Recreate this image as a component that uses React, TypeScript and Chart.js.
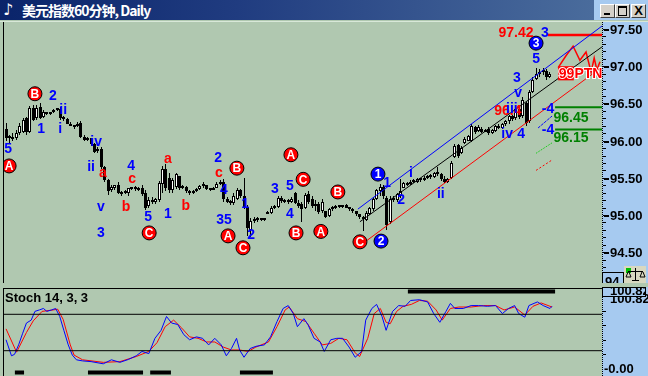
import React, { useEffect, useRef } from 'react';
import { Chart, registerables } from 'chart.js';
Chart.register(...registerables);

const TITLE = '美元指数60分钟, Daily';
const STOCH_TITLE = 'Stoch 14, 3, 3';
const PRICE_TICKS = [97.5, 97.0, 96.5, 96.0, 95.5, 95.0, 94.5];
const PRICE_MIN = 94.087;
const PRICE_MAX = 97.594;
const X_MIN = -0.6;
const X_MAX = 175.3;
const STOCH_MIN = -9.75;
const STOCH_MAX = 112.5;
const STOCH_LEVELS = [75, 25];
const STOCH_TOP_LABEL = '100.82';
const STOCH_BOTTOM_LABEL = '-0.00';

const OPEN = [96.16,96.03,96.05,96.03,96.10,96.12,96.30,96.12,96.44,96.30,96.45,96.32,96.37,96.36,96.38,96.41,96.42,96.30,96.29,96.23,
96.20,96.19,96.24,96.05,96.01,96.03,95.95,95.86,95.89,95.64,95.47,95.33,95.36,95.41,95.30,95.29,95.29,95.36,95.35,95.37,
95.36,95.30,95.12,95.20,95.18,95.20,95.42,95.62,95.50,95.34,95.38,95.52,95.37,95.38,95.32,95.29,95.32,95.35,95.39,95.40,
95.35,95.34,95.37,95.42,95.44,95.21,95.18,95.16,95.22,95.33,95.25,95.11,94.80,94.92,94.95,94.93,94.95,95.02,95.03,95.10,
95.11,95.23,95.19,95.18,95.17,95.29,95.16,95.15,95.10,95.28,95.22,95.12,95.15,95.05,95.05,94.99,95.08,95.10,95.12,95.11,
95.13,95.10,95.08,95.05,95.01,94.97,94.94,95.02,95.08,95.22,95.32,95.38,95.23,94.90,95.22,95.20,95.26,95.37,95.42,95.42,
95.45,95.44,95.48,95.47,95.50,95.52,95.51,95.56,95.55,95.48,95.45,95.50,95.78,95.94,95.84,95.97,96.00,96.00,96.18,96.13,
96.16,96.12,96.16,96.10,96.13,96.19,96.17,96.22,96.26,96.33,96.30,96.42,96.33,96.50,96.26,96.66,96.83,96.90,96.92,96.93,96.85];
const HIGH = [96.24,96.08,96.10,96.14,96.24,96.31,96.32,96.46,96.48,96.48,96.50,96.41,96.39,96.39,96.42,96.44,96.45,96.33,96.30,96.25,
96.21,96.25,96.26,96.07,96.05,96.04,95.97,95.92,95.92,95.66,95.49,95.41,95.41,95.45,95.32,95.34,95.37,95.38,95.39,95.38,
95.40,95.33,95.24,95.24,95.23,95.46,95.66,95.68,95.56,95.50,95.57,95.53,95.41,95.39,95.34,95.33,95.36,95.41,95.44,95.41,
95.37,95.38,95.44,95.47,95.48,95.24,95.20,95.29,95.36,95.35,95.50,95.13,94.96,94.98,94.97,94.96,94.96,95.05,95.12,95.14,
95.25,95.25,95.21,95.21,95.24,95.31,95.20,95.18,95.30,95.32,95.25,95.20,95.18,95.21,95.06,95.10,95.12,95.14,95.14,95.14,
95.15,95.11,95.10,95.06,95.02,94.99,95.05,95.11,95.24,95.35,95.42,95.40,95.26,95.25,95.25,95.30,95.49,95.45,95.45,95.47,
95.48,95.50,95.50,95.52,95.54,95.55,95.58,95.64,95.57,95.52,95.50,95.72,95.96,95.96,95.93,96.05,96.08,96.22,96.20,96.21,
96.18,96.16,96.18,96.16,96.21,96.22,96.24,96.28,96.35,96.34,96.45,96.46,96.58,96.52,96.68,96.85,96.98,96.96,96.98,96.96,96.92];
const LOW = [95.99,95.97,96.00,96.01,96.08,96.10,96.08,96.10,96.26,96.28,96.29,96.30,96.35,96.35,96.37,96.40,96.28,96.27,96.22,96.19,
96.16,96.18,96.03,95.99,95.99,95.93,95.83,95.83,95.62,95.45,95.27,95.31,95.33,95.28,95.26,95.28,95.25,95.33,95.32,95.32,
95.26,95.07,95.10,95.15,95.15,95.18,95.30,95.32,95.30,95.30,95.35,95.34,95.35,95.30,95.27,95.28,95.31,95.34,95.37,95.33,
95.32,95.33,95.36,95.40,95.18,95.16,95.14,95.13,95.20,95.23,95.08,94.72,94.70,94.89,94.90,94.92,94.92,95.01,95.02,95.08,
95.10,95.16,95.16,95.15,95.16,95.15,95.10,94.91,95.08,95.15,95.09,95.06,95.02,95.03,94.96,94.98,95.06,95.08,95.09,95.10,
95.09,95.06,95.03,94.99,94.95,94.78,94.92,95.00,95.06,95.20,95.25,95.22,94.80,94.88,95.18,95.18,95.23,95.36,95.39,95.41,
95.43,95.43,95.45,95.46,95.48,95.49,95.50,95.53,95.46,95.43,95.43,95.48,95.76,95.76,95.82,95.95,95.99,95.98,96.09,96.11,
96.10,96.11,96.08,96.09,96.12,96.15,96.15,96.19,96.23,96.27,96.28,96.29,96.30,96.20,96.24,96.64,96.81,96.86,96.88,96.82,96.84];
const CLOSE = [96.03,96.05,96.02,96.10,96.20,96.28,96.11,96.44,96.28,96.44,96.31,96.38,96.36,96.38,96.41,96.42,96.30,96.29,96.23,96.20,
96.18,96.23,96.05,96.01,96.03,95.95,95.85,95.89,95.64,95.47,95.32,95.38,95.40,95.30,95.28,95.32,95.36,95.35,95.37,95.34,
95.28,95.10,95.20,95.18,95.21,95.43,95.62,95.36,95.34,95.47,95.55,95.37,95.38,95.32,95.29,95.32,95.35,95.39,95.42,95.35,
95.34,95.37,95.42,95.45,95.21,95.18,95.16,95.26,95.33,95.26,95.10,94.83,94.92,94.95,94.93,94.95,94.94,95.04,95.10,95.12,
95.23,95.19,95.18,95.17,95.21,95.16,95.12,95.08,95.27,95.17,95.12,95.15,95.04,95.18,94.98,95.08,95.10,95.12,95.11,95.13,
95.10,95.08,95.05,95.01,94.97,94.95,95.03,95.09,95.22,95.33,95.38,95.25,94.87,95.22,95.20,95.28,95.32,95.43,95.41,95.45,
95.44,95.48,95.47,95.50,95.52,95.51,95.56,95.55,95.48,95.45,95.49,95.70,95.93,95.80,95.90,96.02,96.06,96.20,96.11,96.18,
96.12,96.14,96.10,96.14,96.20,96.17,96.22,96.26,96.33,96.29,96.43,96.32,96.54,96.24,96.65,96.82,96.90,96.92,96.95,96.85,96.90];

// Stochastic %K (blue) and %D (red): bar index / value
const K_X = [0,1.6,2.5,3.7,4.9,6,7.4,8.5,9.8,11,12,13.4,14.6,15.8,17,18.3,19.5,20.7,22.5,25,28.6,31,33.5,36,38.3,40,42,43.8,45.6,47.2,48.7,50.5,52.3,54,56,57.8,59.6,61.4,63.3,64.8,66.3,67.8,68.7,70,71.8,73.5,76,77.8,79.7,81.5,83,84.5,85.7,87.6,88.8,90.6,92.4,93.6,95.5,97.3,99,100.9,102.7,104.6,105.8,107.6,109,110.6,111.8,113.7,115.5,117.4,119,121.6,124,125.8,127.6,129.4,130.7,132,134.5,136.8,139,141.6,144,146,147.8,149.6,150.8,152.6,153.8,156.3,158,160,160.6];
const K_Y = [40,18,20,33,49,63,67,79,81,83,79,81,83,72,53,33,19,12.5,11,10,7,12.5,9,13,18,24,21,42,53,72,63,61,47,40,44,42,33,42,33,18,28,42,26,16,28,31,33,44,65,83,87,76,58,69,61,42,37,24,40,42,42,30,16,24,67,83,88.6,72,53,79,87,86,94,95,92,76,64,79,90,83,83,87,87,86,87,76,83,87,76,71,87,92,87,83,86];
const D_X = [0,3.1,6,8,10.6,13.9,15.2,16.8,18.9,20,22.5,28.6,33.5,38.3,42,44.4,46.8,49.3,51.7,54,56.5,59,61.4,63.9,66.3,68.7,71.2,73.5,77.2,79.7,82.1,83.3,85.7,88.2,90.6,93,95.5,97.9,100.3,102.7,104,106.4,108.3,110.1,111.8,113,114.9,116.8,119.2,121.6,124,126.5,128.3,130.7,133.2,136.8,140.4,144,146.5,149.6,152.6,155,157.4,160.6];
const D_Y = [55,23,50,66,79,81,82,68,33,19,12.5,9,10,17,24,36,58,67,56,44,42,37,37,30,26,26,24,30,37,58,81,85,69,65,49,33,35,42,40,22,17,42,76,83,64,62,79,86,88.6,94,93,81,67,83,85,85,87,87,81,85,74,86,90.6,85];
const OB_SPANS = [[118.2, 161.5]];
const OS_SPANS = [[2.6, 5.3], [24.1, 40.3], [42.4, 48.5], [68.8, 78.5]];
const OB_MARK = 106.3;
const OS_MARK = -5;

// drawn studies on the price chart (bar index, price)
const CH_UPPER = [[103.5, 95.08], [175.3, 97.54]];
const CH_MID = [[104.1, 94.91], [175.3, 97.26]];
const CH_LOWER = [[105.9, 94.65], [175.3, 96.99]];
const TARGET = 97.42;
const TARGET_FROM = 159.4;
const GREEN_LEVELS = [96.45, 96.15];
const GREEN_FROM = 161.5;
const SEG_BLUE = [[156.5, 96.17], [160.6, 96.33]];
const SEG_GREEN = [[155.9, 95.83], [160.6, 95.97]];
const SEG_RED = [[155.9, 95.60], [160.6, 95.74]];
const ZIGZAG = [[162.4, 96.98], [164.7, 97.14], [166.8, 97.27], [168.8, 97.08], [170.6, 97.19], [172.1, 96.92], [173.0, 97.11], [173.8, 96.95], [174.7, 97.06]];

const WAVE_LABELS = [
  [0.6, 95.90, '5', 'b'], [0.9, 95.66, 'A', 'rc'], [8.5, 96.63, 'B', 'rc'], [13.8, 96.61, '2', 'b'],
  [16.8, 96.42, 'ii', 'b'], [10.3, 96.17, '1', 'b'], [15.9, 96.17, 'i', 'b'], [26.5, 95.99, 'iv', 'b'],
  [25.0, 95.66, 'ii', 'b'], [28.5, 95.58, 'a', 'r'], [36.8, 95.67, '4', 'b'], [37.1, 95.50, 'c', 'r'],
  [27.9, 95.12, 'v', 'b'], [35.3, 95.12, 'b', 'r'], [27.9, 94.77, '3', 'b'], [41.8, 94.99, '5', 'b'],
  [42.1, 94.76, 'C', 'rc'], [47.6, 95.03, '1', 'b'], [47.6, 95.77, 'a', 'r'], [52.9, 95.13, 'b', 'r'],
  [62.4, 95.78, '2', 'b'], [62.6, 95.58, 'c', 'r'], [64.1, 95.35, '4', 'b'], [64.1, 94.95, '35', 'b'],
  [65.3, 94.72, 'A', 'rc'], [67.9, 95.63, 'B', 'rc'], [70.3, 95.16, '1', 'b'], [72.1, 94.74, '2', 'b'],
  [69.7, 94.56, 'C', 'rc'], [83.8, 95.81, 'A', 'rc'], [79.1, 95.36, '3', 'b'], [83.5, 95.40, '5', 'b'],
  [87.4, 95.48, 'C', 'rc'], [83.5, 95.03, '4', 'b'], [85.3, 94.76, 'B', 'rc'], [92.6, 94.78, 'A', 'rc'],
  [97.6, 95.31, 'B', 'rc'], [109.4, 95.55, '1', 'bc'], [112.1, 95.44, '1', 'b'], [119.1, 95.58, 'i', 'b'],
  [116.2, 95.22, '2', 'b'], [104.1, 94.64, 'C', 'rc'], [110.3, 94.65, '2', 'bc'], [127.9, 95.30, 'ii', 'b'],
  [147.6, 96.41, '96.4', 'r'], [148.8, 96.44, 'iii', 'b'],
  [147.4, 96.10, 'iv', 'b'], [151.5, 96.10, '4', 'b'], [150.6, 96.65, 'v', 'b'], [150.3, 96.85, '3', 'b'],
  [155.9, 97.11, '5', 'b'], [155.9, 97.31, '3', 'bc'], [150.0, 97.46, '97.42', 'r'], [158.5, 97.46, '3', 'b'],
  [159.4, 96.44, '-4', 'b'], [159.4, 96.16, '-4', 'b'], [166.2, 96.32, '96.45', 'g'], [166.2, 96.05, '96.15', 'g'],
];
const TAG_TEXT = '99PTN';
const TAG_POS = [162.6, 96.91];
const TAG_BOX = [[162.4, 97.0], [167.0, 96.81]];

const FONT = '"Liberation Sans", Arial, sans-serif';
const AXIS_BG = '#a6caf0';
const COLORS = { b: '#0000ff', r: '#ff0000', g: '#008000' };

const pts = (arr) => arr.map(([x, y]) => ({ x, y }));

function lineDs(data, color, width = 1, dash = []) {
  return {
    type: 'line', data, borderColor: color, borderWidth: width, borderDash: dash,
    pointRadius: 0, tension: 0, fill: false, spanGaps: false, order: 0, borderCapStyle: 'butt',
  };
}

// snap candle elements to whole pixels so they render crisp like the original
const snapBars = {
  id: 'snapBars',
  beforeDatasetsDraw(chart) {
    chart.data.datasets.forEach((ds, di) => {
      const meta = chart.getDatasetMeta(di);
      if (meta.type !== 'bar') return;
      meta.data.forEach((el) => {
        el.x = Math.floor(el.x) + 0.5;
        el.y = Math.round(el.y);
        el.base = Math.round(el.base);
      });
    });
  },
};

const priceOverlay = {
  id: 'priceOverlay',
  afterDatasetsDraw(chart) {
    const { ctx, chartArea: a, scales } = chart;
    const x = scales.x, y = scales.y;
    ctx.save();
    ctx.beginPath();
    ctx.rect(a.left, a.top, a.right - a.left, a.bottom - a.top);
    ctx.clip();
    const bx1 = x.getPixelForValue(TAG_BOX[0][0]), by1 = y.getPixelForValue(TAG_BOX[0][1]);
    const bx2 = x.getPixelForValue(TAG_BOX[1][0]), by2 = y.getPixelForValue(TAG_BOX[1][1]);
    ctx.fillStyle = '#ff0000';
    ctx.fillRect(bx1, by1, bx2 - bx1, by2 - by1);
    ctx.font = 'bold 14px ' + FONT;
    ctx.textAlign = 'left';
    ctx.textBaseline = 'middle';
    ctx.lineWidth = 2;
    ctx.strokeStyle = '#ffffff';
    const tx = x.getPixelForValue(TAG_POS[0]), ty = y.getPixelForValue(TAG_POS[1]);
    ctx.strokeText(TAG_TEXT, tx, ty + 1);
    ctx.fillStyle = '#ff0000';
    ctx.fillText(TAG_TEXT, tx, ty + 1);

    ctx.textAlign = 'center';
    for (const [i, p, t, k] of WAVE_LABELS) {
      const px = x.getPixelForValue(i), py = y.getPixelForValue(p);
      if (k === 'rc' || k === 'bc') {
        ctx.beginPath();
        ctx.arc(px, py, 7, 0, Math.PI * 2);
        ctx.fillStyle = k === 'rc' ? '#ff0000' : '#0000ff';
        ctx.fill();
        ctx.lineWidth = 1;
        ctx.strokeStyle = '#000000';
        ctx.stroke();
        ctx.fillStyle = '#ffffff';
        ctx.font = 'bold 12px ' + FONT;
        ctx.fillText(t, px, py + 1);
      } else {
        ctx.fillStyle = COLORS[k];
        ctx.font = 'bold 14px ' + FONT;
        ctx.fillText(t, px, py + 1);
      }
    }
    ctx.restore();
  },
  afterDraw(chart) {
    const { ctx, chartArea: a, scales } = chart;
    const y = scales.y;
    const R = a.right;
    ctx.save();
    ctx.fillStyle = AXIS_BG;
    ctx.fillRect(R, 0, chart.width - R, chart.height);
    ctx.fillStyle = '#000000';
    for (let yy = 0; yy < chart.height; yy += 2) ctx.fillRect(R, yy, 1, 1);
    for (let k = Math.ceil(y.min * 10); k <= Math.floor(y.max * 10); k++) {
      const py = Math.round(y.getPixelForValue(k / 10));
      ctx.fillRect(R + 1, py, 3, 1);
    }
    ctx.font = 'bold 13px ' + FONT;
    ctx.textBaseline = 'middle';
    ctx.textAlign = 'left';
    for (const v of PRICE_TICKS) {
      const py = Math.round(y.getPixelForValue(v));
      ctx.fillRect(R + 2, py, 5, 2);
      ctx.fillText(v.toFixed(2), R + 8, py + 1);
    }
    const H = chart.height;
    ctx.fillStyle = AXIS_BG;
    ctx.fillRect(R, H - 10, 22, 10);
    ctx.strokeStyle = '#000';
    ctx.lineWidth = 1;
    ctx.strokeRect(R + 0.5, H - 10.5, 21, 12);
    ctx.fillStyle = '#000';
    ctx.fillText('94', R + 3, H - 1);
    ctx.fillStyle = '#d8d8c0';
    ctx.fillRect(R + 22, H - 17, 22, 17);
    ctx.fillStyle = '#00c000';
    ctx.fillRect(R + 24, H - 15, 5, 5);
    ctx.strokeStyle = '#000';
    ctx.beginPath();
    ctx.moveTo(R + 33.5, H - 15); ctx.lineTo(R + 33.5, H - 2);
    ctx.moveTo(R + 26, H - 11.5); ctx.lineTo(R + 41, H - 11.5);
    ctx.moveTo(R + 26, H - 11); ctx.lineTo(R + 24, H - 6); ctx.lineTo(R + 29, H - 6); ctx.lineTo(R + 27, H - 11);
    ctx.moveTo(R + 40, H - 11); ctx.lineTo(R + 38, H - 6); ctx.lineTo(R + 43, H - 6); ctx.lineTo(R + 41, H - 11);
    ctx.moveTo(R + 30, H - 2.5); ctx.lineTo(R + 37, H - 2.5);
    ctx.stroke();
    ctx.restore();
  },
};

const stochOverlay = {
  id: 'stochOverlay',
  afterDraw(chart) {
    const { ctx, chartArea: a, scales } = chart;
    const y = scales.y;
    const R = a.right;
    ctx.save();
    ctx.fillStyle = '#000';
    ctx.fillRect(0, 1, R, 1);
    ctx.font = 'bold 13px ' + FONT;
    ctx.textBaseline = 'alphabetic';
    ctx.textAlign = 'left';
    ctx.fillText(STOCH_TITLE, 1, 15);
    ctx.fillStyle = AXIS_BG;
    ctx.fillRect(R, 0, chart.width - R, chart.height);
    ctx.fillStyle = '#000';
    for (let yy = 0; yy < chart.height; yy += 2) ctx.fillRect(R, yy, 1, 1);
    for (let v = 20; v <= 80; v += 20) {
      const py = Math.round(y.getPixelForValue(v));
      ctx.fillRect(R + 1, py, 3, 1);
    }
    ctx.textBaseline = 'middle';
    const y0 = Math.round(y.getPixelForValue(0));
    ctx.fillText(STOCH_BOTTOM_LABEL, R + 2, y0);
    const yt = Math.round(y.getPixelForValue(100.82));
    ctx.fillText(STOCH_TOP_LABEL, R + 8, yt + 3);
    ctx.fillStyle = AXIS_BG;
    ctx.fillRect(R, 0, 44, 10);
    ctx.strokeStyle = '#000';
    ctx.lineWidth = 1;
    ctx.strokeRect(R + 0.5, 0.5, 43, 9);
    ctx.save();
    ctx.beginPath();
    ctx.rect(R + 1, 1, 42, 8);
    ctx.clip();
    ctx.fillStyle = '#000';
    ctx.fillText(STOCH_TOP_LABEL, R + 8, 4);
    ctx.restore();
    ctx.restore();
  },
};

function spansData(spans, level) {
  const out = [];
  spans.forEach(([a, b], k) => {
    if (k > 0) out.push({ x: (a + spans[k - 1][1]) / 2, y: null });
    out.push({ x: a, y: level }, { x: b, y: level });
  });
  return out;
}

const Btn = ({ left, children }) => (
  <div style={{
    position: 'absolute', left, top: 4, width: 13, height: 12, background: '#d4d0c8',
    borderTop: '1px solid #ffffff', borderLeft: '1px solid #ffffff',
    borderRight: '1px solid #404040', borderBottom: '1px solid #404040', overflow: 'hidden',
  }}>{children}</div>
);

export default function App() {
  const mainRef = useRef(null);
  const stochRef = useRef(null);

  useEffect(() => {
    document.body.style.margin = '0';
    const body = CLOSE.map((c, i) => ({ x: i, y: [Math.min(OPEN[i], c), Math.max(OPEN[i], c)] }));
    const wick = CLOSE.map((c, i) => ({ x: i, y: [LOW[i], HIGH[i]] }));
    const bodyColors = CLOSE.map((c, i) => (c >= OPEN[i] ? '#ffffff' : '#000000'));

    const main = new Chart(mainRef.current, {
      type: 'bar',
      data: {
        datasets: [
          lineDs(pts(CH_UPPER), '#0000ff'),
          lineDs(pts(CH_MID), '#000000'),
          lineDs(pts(CH_LOWER), '#ff0000'),
          lineDs([{ x: TARGET_FROM, y: TARGET }, { x: X_MAX, y: TARGET }], '#ff0000', 2.5),
          ...GREEN_LEVELS.map((g) => lineDs([{ x: GREEN_FROM, y: g }, { x: X_MAX, y: g }], '#008000', 2)),
          lineDs(pts(SEG_BLUE), '#0000ff', 1, [3, 1]),
          lineDs(pts(SEG_GREEN), '#00cc00', 1, [1, 1]),
          lineDs(pts(SEG_RED), '#ff0000', 1, [2, 2]),
          lineDs(pts(ZIGZAG), '#ff0000', 1.5),
          {
            type: 'bar', data: body, backgroundColor: bodyColors, borderColor: '#000000', borderWidth: 1,
            barThickness: 3, grouped: false, borderSkipped: false, minBarLength: 2, order: 1, inflateAmount: 0,
          },
          {
            type: 'bar', data: wick, backgroundColor: '#000000', borderWidth: 0,
            barThickness: 1, grouped: false, order: 2, inflateAmount: 0,
          },
        ],
      },
      options: {
        responsive: false, animation: false, devicePixelRatio: 1,
        layout: { padding: { left: 0, right: 46, top: 0, bottom: 0 } },
        plugins: { legend: { display: false }, tooltip: { enabled: false }, title: { display: false } },
        scales: {
          x: { type: 'linear', min: X_MIN, max: X_MAX, display: false, offset: false },
          y: { type: 'linear', min: PRICE_MIN, max: PRICE_MAX, display: false },
        },
      },
      plugins: [snapBars, priceOverlay],
    });

    const stoch = new Chart(stochRef.current, {
      type: 'line',
      data: {
        datasets: [
          ...STOCH_LEVELS.map((l) => lineDs([{ x: X_MIN, y: l }, { x: X_MAX, y: l }], '#000000')),
          lineDs(K_X.map((x, i) => ({ x, y: K_Y[i] })), '#0000ff'),
          lineDs(D_X.map((x, i) => ({ x, y: D_Y[i] })), '#ff0000'),
          lineDs(spansData(OB_SPANS, OB_MARK), '#000000', 4),
          lineDs(spansData(OS_SPANS, OS_MARK), '#000000', 4),
        ],
      },
      options: {
        responsive: false, animation: false, devicePixelRatio: 1,
        layout: { padding: { left: 0, right: 46, top: 0, bottom: 0 } },
        plugins: { legend: { display: false }, tooltip: { enabled: false } },
        scales: {
          x: { type: 'linear', min: X_MIN, max: X_MAX, display: false },
          y: { type: 'linear', min: STOCH_MIN, max: STOCH_MAX, display: false },
        },
      },
      plugins: [stochOverlay],
    });

    return () => { main.destroy(); stoch.destroy(); };
  }, []);

  return (
    <div style={{ position: 'fixed', left: 0, top: 0, width: 648, height: 376, background: '#b0c8b0', overflow: 'hidden' }}>
      <div style={{
        position: 'absolute', left: 0, top: 0, width: 594, height: 20,
        background: 'linear-gradient(90deg, #0a246a 0%, #203c80 40%, #4a6c9c 100%)',
      }} />
      <div style={{ position: 'absolute', left: 594, top: 0, width: 54, height: 20, background: AXIS_BG }} />
      <div style={{ position: 'absolute', left: 3, top: 0, height: 20, lineHeight: '20px', color: '#fff', font: 'bold 16px "DejaVu Sans"' }}>♪</div>
      <div style={{
        position: 'absolute', left: 22, top: 0, height: 20, lineHeight: '20px', color: '#ffffff',
        font: 'bold 14px "Noto Sans CJK SC", "Liberation Sans", sans-serif', whiteSpace: 'nowrap', letterSpacing: '-1px',
      }}>{TITLE}</div>
      <Btn left={600}><div style={{ position: 'absolute', left: 3, top: 8, width: 6, height: 2, background: '#000' }} /></Btn>
      <Btn left={615}><div style={{ position: 'absolute', left: 2, top: 1, width: 7, height: 7, border: '1px solid #000', borderTop: '2px solid #000' }} /></Btn>
      <Btn left={631}><div style={{ position: 'absolute', left: 0, top: -2, width: 13, textAlign: 'center', font: 'bold 13px "Liberation Sans"', color: '#000' }}>X</div></Btn>
      <div style={{ position: 'absolute', left: 0, top: 21, width: 648, height: 1, background: '#d8e8d8' }} />
      <div style={{ position: 'absolute', left: 3, top: 22, width: 1, height: 261, background: '#000' }} />
      <canvas ref={mainRef} width={644} height={261} style={{ position: 'absolute', left: 4, top: 22 }} />
      <div style={{ position: 'absolute', left: 3, top: 288, width: 1, height: 88, background: '#000' }} />
      <canvas ref={stochRef} width={644} height={89} style={{ position: 'absolute', left: 4, top: 287 }} />
    </div>
  );
}
